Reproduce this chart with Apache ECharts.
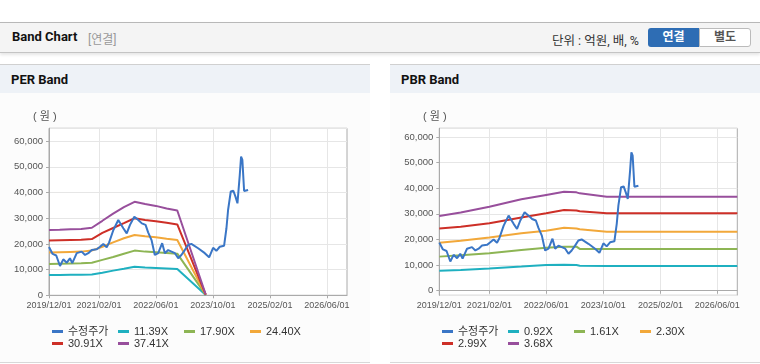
<!DOCTYPE html>
<html><head><meta charset="utf-8">
<script src="https://cdn.jsdelivr.net/npm/echarts@6/dist/echarts.min.js"></script>
<style>
body{margin:0;width:760px;height:364px;background:#fff;font-family:Roboto,"Noto Sans CJK KR",sans-serif;position:relative;overflow:hidden}
.top{position:absolute;left:0;top:22px;width:760px;height:29px;background:#f4f4f4;border-top:1px solid #b8b8b8;border-bottom:1px solid #c4c4c4;box-shadow:0 2px 3px rgba(0,0,0,0.10)}
.ttl{position:absolute;left:12px;top:6px;font-size:13px;font-weight:bold;color:#111}
.sub{position:absolute;left:88px;top:7px;font-size:12px;color:#999}
.unit{position:absolute;left:552px;top:7px;font-size:12.5px;color:#333}
.b1{position:absolute;left:648px;top:5px;width:51px;height:19px;background:#2e6db4;color:#fff;border-radius:3px 0 0 3px;font-size:12px;font-weight:bold;text-align:center;line-height:19px}
.b2{position:absolute;left:699px;top:5px;width:50px;height:17px;background:#fff;color:#555;border:1px solid #bbb;border-radius:0 3px 3px 0;font-size:12px;font-weight:bold;text-align:center;line-height:17px}
.panel{position:absolute;top:64px;width:370px;height:297px;background:#fcfcfc;border-top:1px solid #d0d0d0;border-bottom:1px solid #d8d8d8}
.ph{height:28px;background:#eef2f7;font-size:13px;font-weight:bold;color:#111;padding-left:11px;line-height:30px}
.chart{position:absolute;top:93px;width:370px;height:269px}
</style>
</head><body>
<div class="top"><span class="ttl">Band Chart</span><span class="sub">[연결]</span><span class="unit">단위 : 억원, 배, %</span><div class="b1">연결</div><div class="b2">별도</div></div>
<div class="panel" style="left:0"><div class="ph">PER Band</div></div>
<div class="panel" style="left:390px"><div class="ph">PBR Band</div></div>
<div id="per" class="chart" style="left:0"></div>
<div id="pbr" class="chart" style="left:390px"></div>
<script>
// x-axis tick labels
const tickLabels = ['2019/12/01','2021/02/01','2022/06/01','2023/10/01','2025/02/01','2026/06/01'];
const axisStart = '2019-12-01';
const axisEnd = '2026-11-20';

// 수정주가 (adjusted price)
const priceDates = ['2019-12-01','2020-01-01','2020-02-01','2020-03-04','2020-04-01','2020-05-01','2020-05-28','2020-06-17','2020-07-25','2020-09-05','2020-10-04','2020-11-01','2020-11-30','2021-01-12','2021-02-09','2021-03-09','2021-04-07','2021-04-27','2021-06-03','2021-07-15','2021-08-27','2021-09-25','2021-10-23','2021-11-29','2022-01-02','2022-02-01','2022-03-05','2022-03-27','2022-04-25','2022-05-23','2022-06-21','2022-07-25','2022-08-17','2022-09-14','2022-10-13','2022-11-11','2022-12-09','2023-01-05','2023-02-03','2023-03-03','2023-03-31','2023-05-28','2023-07-24','2023-08-30','2023-10-03','2023-10-31','2023-11-29','2024-01-05','2024-01-25','2024-02-08','2024-03-02','2024-03-24','2024-04-11','2024-04-28','2024-05-18','2024-05-29','2024-06-09','2024-06-24','2024-07-28'];
const priceValues = [18800,16100,15500,11400,14000,12700,14400,12500,16400,17000,15700,16400,17600,17900,18900,20000,18700,20500,25400,29300,26100,24100,27400,30600,29300,28000,27400,24500,21500,15700,16400,20300,16400,17600,17000,16400,14400,15700,17600,19600,20000,18300,16400,14800,18500,17300,18900,19300,26100,33200,40400,40700,38400,35800,46900,54000,52700,40600,41000];

// PER bands
const perNames = ['11.39X','17.90X','24.40X','30.91X','37.41X'];
const perDates = ['2019-12-01','2020-03-01','2020-06-01','2020-09-01','2020-12-01','2021-03-01','2021-06-01','2021-09-01','2021-12-01','2022-03-01','2022-06-01','2022-09-01','2022-12-01','2023-08-01'];
const per1139 = [7900,7900,7950,8000,8100,8800,9600,10300,11100,10800,10600,10400,10200,100];
const per1790 = [12200,12300,12400,12500,12700,13800,14900,16200,17400,17000,16800,16500,16200,150];
const per2440 = [16700,16800,16900,17000,17400,18900,20600,22200,23500,23000,22600,22000,21500,200];
const per3091 = [21300,21400,21500,21600,21900,24300,26200,28100,30000,29300,28800,28200,27600,250];
const per3741 = [25400,25500,25700,25800,26300,29000,31800,34300,36400,35500,34800,33800,33000,300];

// PBR bands
const pbrNames = ['0.92X','1.61X','2.30X','2.99X','3.68X'];
const pbrDates = ['2019-12-01','2020-06-01','2021-02-01','2021-11-01','2022-06-01','2022-11-01','2023-02-15','2023-03-15','2023-11-01','2026-11-20'];
const pbr092 = [7800,8100,8700,9400,10000,10100,10000,9700,9600,9600];
const pbr161 = [13300,13800,14600,15900,16800,17200,17200,16300,16300,16300];
const pbr230 = [18700,19500,20800,22400,23400,24600,24300,24000,23000,23000];
const pbr299 = [24300,25000,26300,28600,30200,31500,31300,31000,30200,30200];
const pbr368 = [29200,30500,32800,35700,37400,38600,38400,38000,36700,36700];

const colors = ['#3a76c6','#1fb0c0','#8db554','#f2a83a','#cd2f27','#984f9c'];
const FONT = '"Liberation Sans","Noto Sans CJK KR",sans-serif';
const ts = s => { const p = s.split(/[-\/]/); return new Date(+p[0], +p[1] - 1, +p[2]).getTime(); };
const zip = (d, v) => d.map((x, i) => [ts(x), v[i]]);
const tickVals = tickLabels.map(ts);
const pad = n => (n < 10 ? '0' : '') + n;

function makeOption(bandNames, bandDates, bands, yMin, yMax, gridLeft, gridRight) {
  const series = [{
    name: '수정주가', type: 'line', data: zip(priceDates, priceValues), showSymbol: false,
    lineStyle: { width: 2, color: colors[0] }, itemStyle: { color: colors[0] }, z: 5
  }];
  bands.forEach((b, i) => series.push({
    name: bandNames[i], type: 'line', data: zip(bandDates, b), showSymbol: false,
    lineStyle: { width: 2, color: colors[i + 1] }, itemStyle: { color: colors[i + 1] }, z: 2
  }));
  const names = ['수정주가'].concat(bandNames);
  return {
    animation: false,
    color: colors,
    grid: { left: gridLeft, right: gridRight, top: 35.3, bottom: 66.7, show: true, borderColor: '#aaa', borderWidth: 1, backgroundColor: '#fff' },
    graphic: [{ type: 'text', left: 33, top: 18, style: { text: '( 원 )', fontSize: 11, fill: '#555', fontFamily: FONT } }],
    xAxis: {
      type: 'value', min: ts(axisStart), max: ts(axisEnd),
      axisLine: { lineStyle: { color: '#aaa' } },
      axisTick: { show: true, length: 3, lineStyle: { color: '#aaa' }, customValues: tickVals },
      splitLine: { show: true, lineStyle: { color: '#e6e6e6' } },
      axisLabel: {
        customValues: tickVals, fontSize: 9, color: '#555', fontFamily: FONT, margin: 6,
        formatter: v => { const d = new Date(v); return d.getFullYear() + '/' + pad(d.getMonth() + 1) + '/' + pad(d.getDate()); }
      }
    },
    yAxis: {
      type: 'value', min: yMin, max: yMax,
      axisLine: { show: true, lineStyle: { color: '#aaa' } },
      axisTick: { show: true, length: 3, lineStyle: { color: '#aaa' } },
      splitLine: { show: true, lineStyle: { color: '#e6e6e6' } },
      axisLabel: { fontSize: 9.5, color: '#555', fontFamily: FONT, margin: 6, showMinLabel: yMin === 0, showMaxLabel: false,
        formatter: v => v.toLocaleString('en-US') }
    },
    legend: {
      left: 52, top: 233, width: 272, padding: 0, itemWidth: 11, itemHeight: 3, itemGap: 1, icon: 'rect',
      data: names,
      formatter: n => '{a|' + n + '}',
      textStyle: { rich: { a: { width: 49, fontSize: 11, color: '#333', lineHeight: 13, fontFamily: FONT } } }
    },
    series: series
  };
}

const perChart = echarts.init(document.getElementById('per'), null, { renderer: 'canvas' });
perChart.setOption(makeOption(perNames, perDates, [per1139, per1790, per2440, per3091, per3741], 0, 65000, 49, 23));
const pbrChart = echarts.init(document.getElementById('pbr'), null, { renderer: 'canvas' });
pbrChart.setOption(makeOption(pbrNames, pbrDates, [pbr092, pbr161, pbr230, pbr299, pbr368], -1800, 63400, 49.3, 22.7));
</script>
</body></html>
